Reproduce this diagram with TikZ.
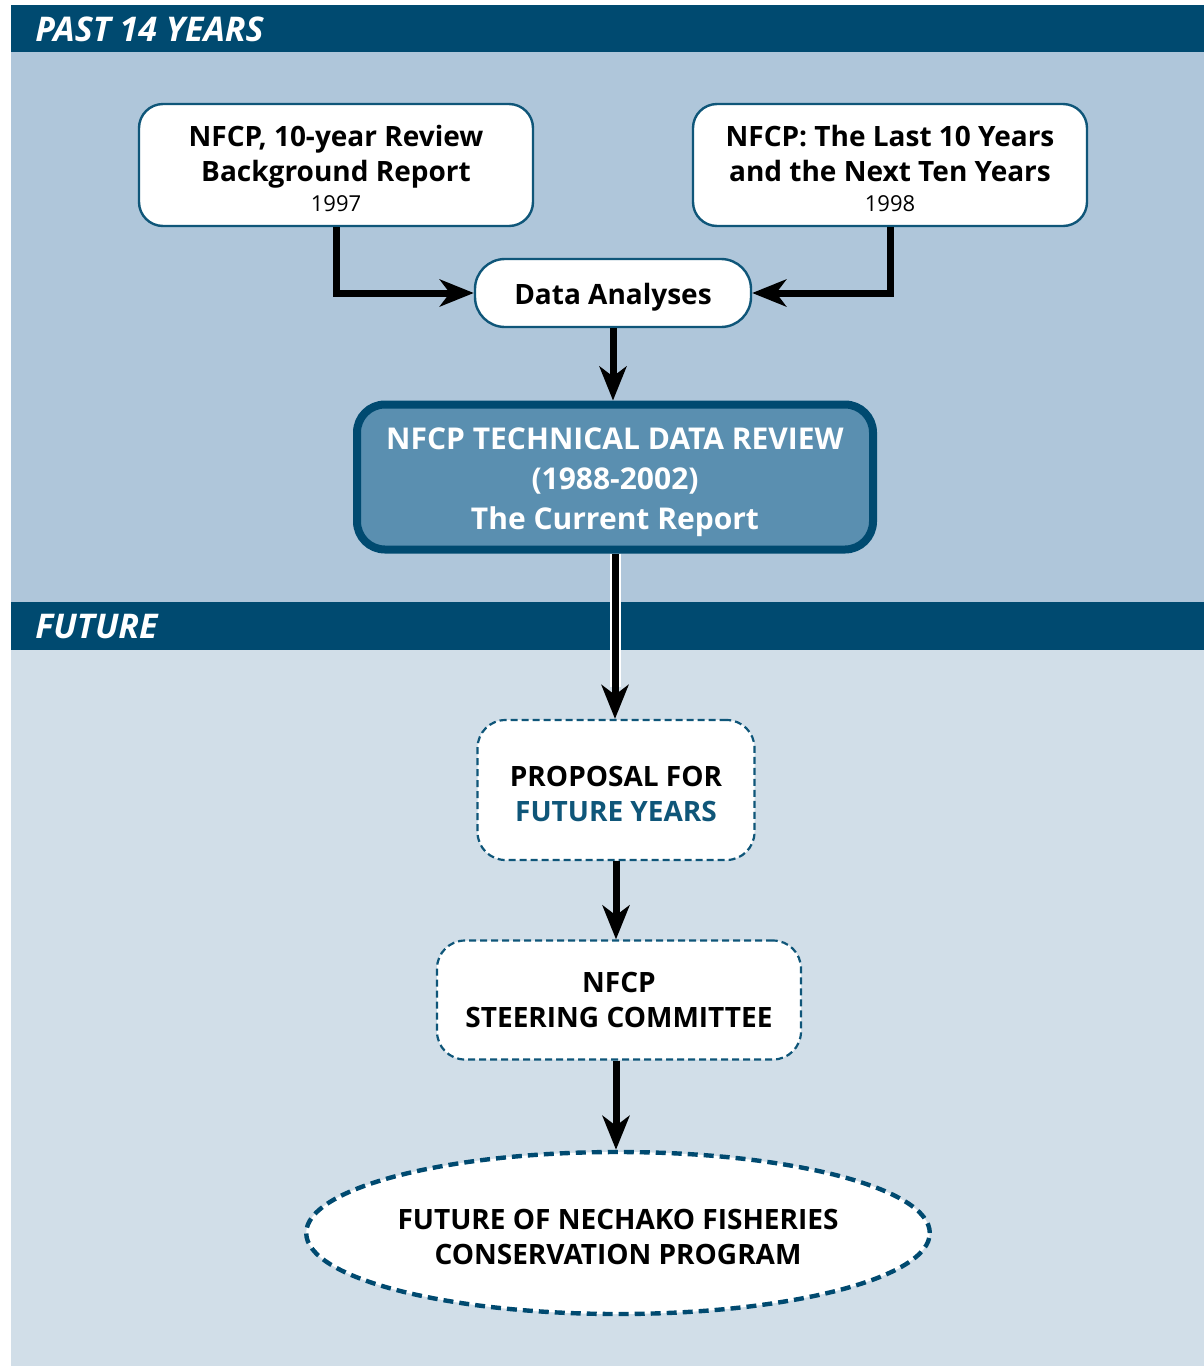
\documentclass[tikz,border=0pt]{standalone}
\usepackage{fontspec}
\setmainfont{Open Sans}
\usetikzlibrary{arrows.meta,shapes.geometric}
\definecolor{navy}{HTML}{004A70}
\definecolor{pastbg}{HTML}{AFC6DA}
\definecolor{futurebg}{HTML}{D1DEE8}
\definecolor{boxline}{HTML}{0F5679}
\definecolor{reviewfill}{HTML}{5A8FB0}
\begin{document}
\begin{tikzpicture}[
    x=0.5pt, y=-0.5pt,
    header/.style={anchor=west, inner sep=0pt, text=white,
      font=\bfseries\itshape\fontsize{17}{20}\selectfont},
    box/.style={draw=boxline, line width=1.2pt, fill=white, rounded corners=12pt,
      align=center, inner sep=0pt, font=\bfseries\fontsize{14}{17.5}\selectfont},
    plan/.style={box, line width=1.1pt, dash pattern=on 3.5pt off 2pt, rounded corners=14pt},
    flow/.style={line width=3.5pt, -{Stealth[length=17pt,width=13.5pt,inset=5pt]}}
  ]
  % panels
  \fill[white] (0,0) rectangle (1204,1366);
  \fill[pastbg] (11,52) rectangle (1204,602);
  \fill[futurebg] (11,650) rectangle (1204,1366);
  \fill[navy] (11,5) rectangle (1204,52);
  \fill[navy] (11,602) rectangle (1204,650);
  \node[header] (past) at (35,29) {PAST 14 YEARS};
  \node[header] (future) at (35,627) {FUTURE};

  % past 14 years
  \node[box, minimum width=197pt, minimum height=61pt] (bg97) at (336,165)
    {\rule{0pt}{14.5pt}NFCP, 10-year Review\\Background Report\\[-2.5pt]{\mdseries\fontsize{11}{13}\selectfont 1997}};
  \node[box, minimum width=197pt, minimum height=61pt] (next98) at (890,165)
    {\rule{0pt}{14.5pt}NFCP: The Last 10 Years\\and the Next Ten Years\\[-2.5pt]{\mdseries\fontsize{11}{13}\selectfont 1998}};
  \node[box, minimum width=138pt, minimum height=34pt, rounded corners=15pt] (data) at (613,293)
    {\rule{0pt}{14.5pt}Data Analyses};
  \node[box, draw=navy, line width=4pt, fill=reviewfill, text=white, rounded corners=14pt,
    minimum width=258pt, minimum height=72.5pt, font=\bfseries\fontsize{15}{20}\selectfont] (review) at (615,477)
    {\rule{0pt}{16.5pt}NFCP TECHNICAL DATA REVIEW\\(1988-2002)\\The Current Report};

  % future
  \node[plan, minimum width=138.5pt, minimum height=70pt] (proposal) at (616,790)
    {\rule{0pt}{14pt}PROPOSAL FOR\\\textcolor{boxline}{FUTURE YEARS}};
  \node[plan, minimum width=182pt, minimum height=59.5pt] (steering) at (619,1000)
    {NFCP\\STEERING COMMITTEE};
  \node[box, ellipse, draw=navy, line width=2.2pt, dash pattern=on 5pt off 3pt,
    minimum width=309pt, minimum height=81pt] (nfcp) at (618,1233)
    {\rule{0pt}{14.5pt}FUTURE OF NECHAKO FISHERIES\\CONSERVATION PROGRAM};

  % connectors
  \draw[flow] (bg97.south) |- (data.west);
  \draw[flow] (next98.south) |- (data.east);
  \draw[flow] (data.south) -- (data.south |- review.north);
  \draw[flow, preaction={draw=white, line width=5.5pt, -, shorten >=16pt}]
    (review.south) -- (review.south |- proposal.north);
  \draw[flow] (proposal.south) -- (proposal.south |- steering.north);
  \draw[flow] (proposal.south |- steering.south) -- (proposal.south |- nfcp.north);
\end{tikzpicture}
\end{document}
